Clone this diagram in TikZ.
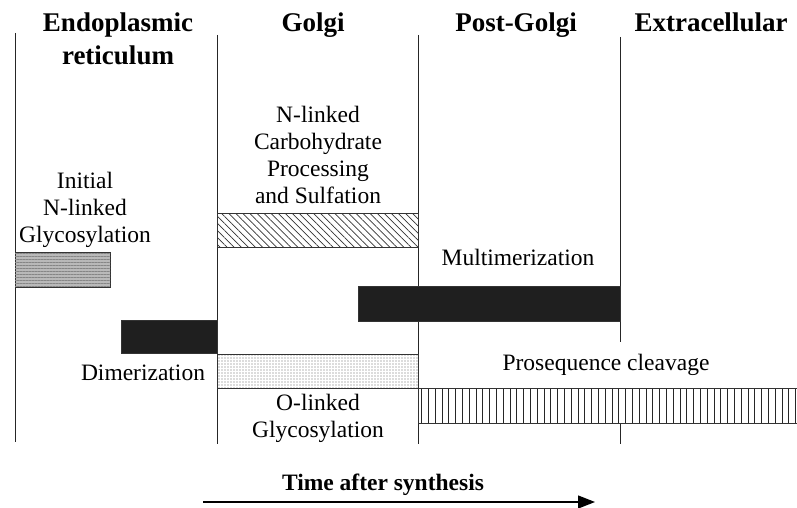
\documentclass[tikz,border=0pt]{standalone}
\usepackage{fontspec}
\setmainfont{Liberation Serif}
\usetikzlibrary{positioning}
\usetikzlibrary{arrows.meta}
\usetikzlibrary{patterns.meta}

\begin{document}
\begin{tikzpicture}
				[x=1pt, y=-1pt,
					every node/.style={inner sep=0pt, align=center,
						font=\fontsize{23.5}{27}\selectfont},
					head/.style={font=\fontsize{27}{33}\selectfont\bfseries, anchor=base},
					lbl/.style={anchor=base},
					bar/.style={rectangle, draw=black!80, thin, anchor=north west},
					wall/.style={line width=0.9pt, black!85}]
				\useasboundingbox (0,0) rectangle (797,508);
				% compartments
				\draw [wall] (15,33) -- (15,442);
				\draw [wall] (217,35) -- (217,444);
				\draw [wall] (418,35) -- (418,444);
				\draw [wall] (620,37) -- (620,342);
				\draw [wall] (620,423) -- (620,444);
				\node (er) [head] at (118,65) {Endoplasmic\\reticulum};
				\node (golgi) [head] at (313,32) {Golgi};
				\node (post) [head] at (516,32) {Post-Golgi};
				\node (extra) [head] at (711,32) {Extracellular};
				% events
				\node (ibar) [bar, minimum width=95pt, minimum height=35pt, fill=gray!55,
					postaction={pattern={Lines[angle=0,distance=3pt,line width=0.6pt]}, pattern color=gray!95}]
					at (15,252) {};
				\node (ilab) [lbl] at (85,242) {Initial\\N-linked\\Glycosylation};
				\node (nbar) [bar, minimum width=201pt, minimum height=34pt,
					pattern={Lines[angle=-45,distance=5pt,line width=0.7pt]}, pattern color=black!80]
					at (217,213) {};
				\node (nlab) [lbl] at (318,203) {N-linked\\Carbohydrate\\Processing\\and Sulfation};
				\node (mbar) [bar, minimum width=262pt, minimum height=35pt, fill=black!88]
					at (358,286) {};
				\node (mlab) [lbl] at (518,265) {Multimerization};
				\node (dbar) [bar, minimum width=96pt, minimum height=33pt, fill=black!88]
					at (121,320) {};
				\node (dlab) [lbl] at (143,380) {Dimerization};
				\node (obar) [bar, minimum width=201pt, minimum height=34pt,
					pattern={Dots[distance=3pt,radius=0.55pt]}, pattern color=black!60]
					at (217,354) {};
				\node (olab) [lbl] at (318,437) {O-linked\\Glycosylation};
				\node (pbar) [bar, minimum width=379pt, minimum height=35pt,
					pattern={Lines[angle=90,distance=6.8pt,line width=1pt]}, pattern color=black!85]
					at (418,388) {};
				\node (plab) [lbl] at (606,370) {Prosequence cleavage};
				% time axis
				\node (time) [lbl, font=\fontsize{23.5}{27}\selectfont\bfseries] at (383,490) {Time after synthesis};
				\coordinate (t0) at (203,502);
				\coordinate (t1) at (595,502);
				\draw [-{Triangle[length=17pt,width=13pt]}, line width=1.3pt] (t0) -- (t1);
			\end{tikzpicture}
\end{document}
